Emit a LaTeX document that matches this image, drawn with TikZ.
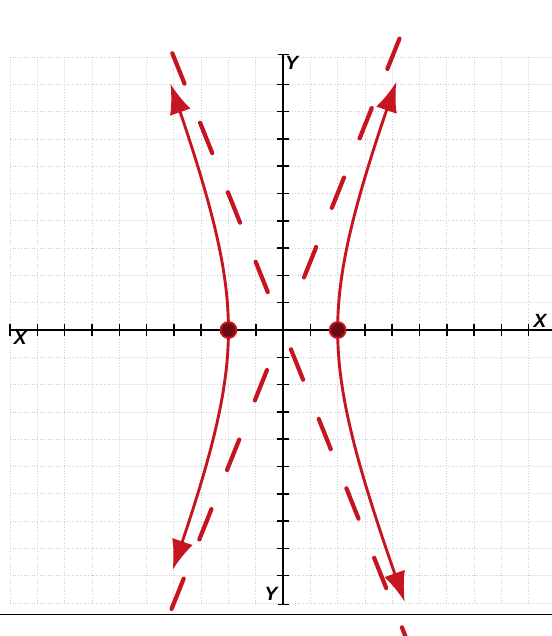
\documentclass[tikz,border=0pt]{standalone}
\usepackage{fontspec}
\setsansfont{Liberation Sans}
\usetikzlibrary{arrows.meta,positioning,calc}
\definecolor{inkred}{RGB}{198,20,32}

\begin{document}
\begin{tikzpicture}[
    x=5mm, y=5mm,
    >={Latex[length=5.5mm,width=4mm]},
    gridline/.style={draw=gray!40, densely dotted, line width=0.4pt, step=5mm},
    axisline/.style={draw=black, line width=1pt},
    tickmark/.style={draw=black, line width=0.8pt},
    axislabel/.style={font=\sffamily\bfseries\itshape\fontsize{10}{12}\selectfont, inner sep=0pt},
    % red ink for the curve and its asymptotes
    branch/.style={draw=inkred, line width=1.5pt, <->},
    asymptote/.style={draw=inkred, line width=2.2pt, line cap=round, dash pattern=on 17pt off 22pt},
    vertexdot/.style={circle, fill=inkred!55!black, draw=inkred, line width=1pt, minimum size=2.9mm, inner sep=0pt}
]

\useasboundingbox (-10.37,-11.21) rectangle (9.85,12.09);

% Grid
\draw[gridline] (-10,-10) grid (9.85,10);

% Axes
\draw[axisline] (-10,0) -- (9.85,0);
\draw[axisline] (0,-10.05) -- (0,10.1);
\foreach \i in {-10,...,9} \draw[tickmark] (\i,-0.22) -- (\i,0.22);
\foreach \j in {-9,...,9} \draw[tickmark] (-0.22,\j) -- (0.22,\j);
\draw[tickmark] (-0.2,10.1) -- (0.2,10.1);
\draw[tickmark] (-0.2,-10.05) -- (0.2,-10.05);

\node[axislabel] (xleft) at (-9.63,-0.3) {X};
\node[axislabel] (xright) at (9.41,0.33) {X};
\node[axislabel] (ytop) at (0.32,9.8) {Y};
\node[axislabel] (ybot) at (-0.44,-9.67) {Y};

% Asymptotes
\draw[asymptote] (-0.56,1.39) -- (-4.3,10.75);
\draw[asymptote] (0.77,1.93) -- (4.62,11.56);
\draw[asymptote] (-0.59,-1.47) -- (-4.48,-11.21);
\draw[asymptote] (0.29,-0.71) -- (4.48,-11.21);

% Branches
\draw[branch] plot[domain=-1.33:1.353, samples=60, variable=\t] ({-2*cosh(\t)},{5*sinh(\t)});
\draw[branch] plot[domain=-1.44:1.36, samples=60, variable=\t] ({2*cosh(\t)},{5*sinh(\t)});

% Vertices
\node[vertexdot] (vleft) at (-2,0) {};
\node[vertexdot] (vright) at (2,0) {};

% Rule under the figure
\draw[black, line width=0.9pt] (-10.37,-10.42) -- (9.85,-10.42);

\end{tikzpicture}
\end{document}
